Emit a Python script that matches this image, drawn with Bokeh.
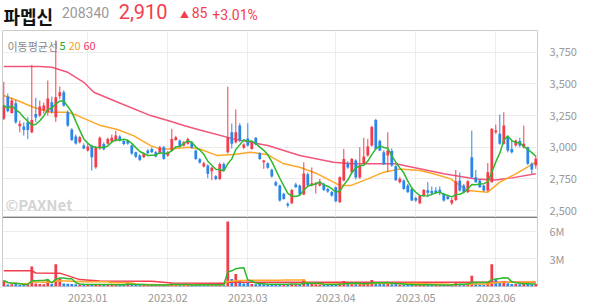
import pandas as pd
from bokeh.plotting import figure
from bokeh.layouts import column
from bokeh.models import Range1d, FixedTicker, NumeralTickFormatter, Label, Span, ColumnDataSource
from bokeh.embed import file_html
from bokeh.resources import INLINE

# ---------------- data ----------------
opens = [3225, 3400, 3270, 3348, 3166, 3163, 3197, 3118, 3262, 3250, 3290, 3276, 3355, 3237, 3403, 3434, 3276, 3140, 3085, 3040,
         3013, 2975, 3013, 2842, 2990, 3025, 3027, 3045, 3050, 3085, 3050, 3050, 3013, 2960, 2935, 2921, 2974, 2987, 2960, 2953,
         3000, 2934, 2974, 3058, 3053, 3013, 3027, 3040, 2974, 2905, 2847, 2855, 2810, 2770, 2750, 2868, 2960, 3118, 3040, 3171,
         2995, 3069, 2987, 3074, 2953, 2882, 2874, 2822, 2724, 2697, 2632, 2553, 2558, 2705, 2697, 2626, 2787, 2697, 2705, 2697,
         2711, 2671, 2647, 2684, 2566, 2737, 2874, 2803, 2895, 2760, 2874, 2934, 3013, 3216, 3050, 2960, 2934, 2970, 2850, 2724,
         2737, 2697, 2671, 2600, 2558, 2618, 2660, 2655, 2658, 2665, 2632, 2611, 2558, 2584, 2737, 2697, 2645, 2921, 2763, 2737,
         2697, 2658, 2724, 3118, 3106, 3027, 3079, 2987, 3013, 3050, 3000, 3000, 2870, 2855]
highs = [3515, 3424, 3390, 3374, 3211, 3197, 3237, 3650, 3390, 3369, 3352, 3527, 3400, 3843, 3480, 3450, 3290, 3150, 3100, 3090,
         3030, 3030, 3020, 3010, 3085, 3040, 3075, 3100, 3130, 3095, 3060, 3060, 3020, 2965, 2945, 2960, 2985, 3000, 2970, 3010,
         3010, 2970, 3145, 3090, 3060, 3050, 3075, 3050, 2980, 2915, 2885, 2865, 2845, 2780, 2880, 2880, 3479, 3187, 3298, 3190,
         3030, 3190, 3045, 3080, 2960, 2900, 2880, 2830, 2735, 2705, 2640, 2565, 2670, 2720, 2705, 2882, 2800, 2840, 2725, 2750,
         2720, 2680, 2655, 2690, 2770, 2987, 2890, 2915, 2905, 3000, 3074, 3066, 3170, 3225, 3060, 2975, 3118, 2990, 2860, 2765,
         2745, 2710, 2680, 2610, 2625, 2670, 2724, 2690, 2685, 2690, 2640, 2620, 2600, 2820, 2800, 2710, 2740, 3132, 2820, 2750,
         2705, 2875, 3150, 3179, 3258, 3276, 3090, 3060, 3060, 3075, 3171, 3005, 2880, 2935]
lows = [3215, 3276, 3264, 3185, 3118, 3092, 3066, 3110, 3200, 3237, 3266, 3250, 3265, 3200, 3380, 3320, 3160, 3050, 3021, 3030,
        2985, 2965, 2816, 2830, 2980, 2975, 3020, 3040, 3045, 3045, 3015, 3020, 2940, 2915, 2890, 2915, 2945, 2955, 2920, 2945,
        2900, 2925, 2965, 3050, 3000, 3005, 3020, 2990, 2900, 2870, 2840, 2755, 2740, 2740, 2740, 2810, 2950, 2990, 3030, 3040,
        2985, 3005, 2980, 3015, 2900, 2829, 2830, 2760, 2690, 2570, 2585, 2525, 2550, 2680, 2620, 2620, 2690, 2690, 2634, 2690,
        2655, 2640, 2610, 2565, 2560, 2730, 2830, 2795, 2745, 2750, 2865, 2925, 3005, 2980, 2970, 2860, 2805, 2845, 2735, 2715,
        2665, 2640, 2575, 2570, 2550, 2610, 2605, 2620, 2630, 2620, 2570, 2585, 2545, 2575, 2650, 2640, 2640, 2755, 2720, 2680,
        2650, 2650, 2720, 3105, 3020, 3020, 2960, 2950, 3005, 3000, 2990, 2860, 2790, 2830]
closes = [3330, 3285, 3369, 3197, 3185, 3137, 3137, 3216, 3234, 3321, 3329, 3385, 3280, 3395, 3434, 3329, 3171, 3058, 3030, 3079,
          2990, 3005, 2921, 3000, 3075, 2985, 3066, 3075, 3092, 3055, 3025, 3030, 2950, 2925, 2900, 2947, 2953, 2960, 2926, 3000,
          2910, 2960, 3066, 3079, 3005, 3040, 3066, 2995, 2908, 2880, 2874, 2790, 2837, 2750, 2868, 2816, 3079, 3027, 3118, 3053,
          3021, 3013, 3040, 3021, 2908, 2895, 2837, 2768, 2697, 2579, 2592, 2540, 2663, 2684, 2626, 2792, 2697, 2716, 2716, 2716,
          2663, 2650, 2618, 2574, 2763, 2908, 2840, 2908, 2760, 2855, 2926, 3005, 3160, 2987, 2975, 2865, 2974, 2855, 2740, 2750,
          2671, 2645, 2579, 2579, 2618, 2663, 2640, 2637, 2640, 2645, 2579, 2592, 2584, 2732, 2658, 2645, 2732, 2763, 2724, 2684,
          2658, 2803, 3145, 3132, 3027, 3171, 2974, 2960, 3053, 3013, 3027, 2869, 2825, 2910]
volumes = [640, 220, 240, 260, 200, 210, 230, 2180, 330, 280, 250, 750, 280, 2430, 860, 330, 300, 280, 240, 220,
           200, 190, 280, 240, 220, 190, 180, 190, 210, 170, 160, 430, 190, 180, 190, 160, 150, 160, 170, 180,
           200, 160, 330, 200, 170, 160, 180, 170, 200, 180, 160, 220, 200, 190, 240, 200, 7070, 820, 1360, 600,
           330, 400, 280, 240, 280, 240, 220, 240, 240, 280, 240, 240, 300, 240, 220, 750, 330, 280, 240, 220,
           200, 180, 190, 240, 350, 600, 280, 330, 280, 300, 330, 330, 700, 400, 280, 280, 500, 240, 280, 200,
           200, 190, 220, 180, 200, 210, 190, 160, 150, 160, 200, 170, 180, 400, 240, 200, 280, 1180, 330, 240,
           200, 400, 2430, 800, 500, 600, 350, 280, 280, 240, 330, 330, 240, 280]
volumes = [v * 1000 for v in volumes]

# moving averages (index, value)
ma20_idx = [0, 3.4, 7.4, 11.7, 16, 18.4, 24.2, 28.4, 32.4, 36.7, 39, 42.4, 46, 49, 53.4, 57.4, 61.7, 66, 70, 74,
            78.4, 82.4, 84, 86.7, 91, 95, 99, 104, 107.4, 111.7, 116, 121, 124, 128, 133]
ma20_val = [3408, 3369, 3316, 3276, 3276, 3250, 3171, 3140, 3092, 3013, 2987, 2987, 3000, 2986, 2934, 2942, 2960, 2940, 2869, 2842,
            2790, 2724, 2697, 2697, 2750, 2803, 2828, 2816, 2790, 2750, 2658, 2645, 2724, 2790, 2882]
ma60_idx = [0, 9, 12, 16, 20, 22.5, 28.5, 36.7, 41, 45, 49, 57.4, 66, 74, 82.4, 87, 98, 110, 118, 123, 127, 133]
ma60_val = [3637, 3637, 3632, 3592, 3513, 3434, 3355, 3250, 3211, 3171, 3136, 3066, 3013, 2934, 2882, 2869, 2869, 2790, 2750, 2742,
            2758, 2790]
vma60_idx = [0, 7, 8, 14, 19, 24, 37, 42, 55, 56, 133]
vma60_val = [1710000, 1710000, 1470000, 1450000, 750000, 600000, 580000, 380000, 360000, 470000, 450000]

month_idx = [21, 41, 61, 83, 103, 123]
month_labels = ["2023.01", "2023.02", "2023.03", "2023.04", "2023.05", "2023.06"]
price_ticks = [2500, 2750, 3000, 3250, 3500, 3750]
vol_ticks = [3000000, 6000000]
vol_tick_labels = ["3M", "6M"]

# ---------------- styling ----------------
RED = "#f23d4c"
BLUE = "#2b86e8"
GREEN = "#2eb82e"
ORANGE = "#ffa828"
PINK = "#f2557a"
GRID = "#ececec"
FONT = "Noto Sans CJK KR"
NUMFONT = "Roboto"

W = 594
FR_L, FR_R = 2, 537
HEAD_H, PRICE_H, VOL_H = 30, 187, 87
X0, X1 = -0.325, 133.425
P_LO, P_HI = 2445, 3922
V_LO, V_HI = 0, 7500000

n = len(closes)
idx = list(range(n))
candle_col = [RED if c >= o else BLUE for o, c in zip(opens, closes)]
vol_col = [RED if (i == 0 and closes[0] >= opens[0]) or (i > 0 and closes[i] >= closes[i - 1]) else BLUE for i in idx]
ma5 = pd.Series(closes).rolling(5, min_periods=1).mean().tolist()
vma5 = pd.Series(volumes).rolling(5, min_periods=1).mean().tolist()
vma20 = pd.Series(volumes).rolling(20, min_periods=1).mean().tolist()


def px_x(px):
    return X0 + (px - FR_L) * (X1 - X0) / (FR_R - FR_L)


def px_py(py):  # page y (within price frame) -> price
    return P_HI - (py - HEAD_H) * (P_HI - P_LO) / PRICE_H


# ---------------- header ----------------
h = figure(width=W, height=HEAD_H, x_range=Range1d(0, W), y_range=Range1d(HEAD_H, 0), title=None,
           output_backend="svg", toolbar_location=None, min_border=0,
           x_axis_location=None, y_axis_location=None)
h.outline_line_color = None
h.xgrid.visible = False
h.ygrid.visible = False
h.background_fill_color = "white"
# (x, top y, text, font, size, style, colour)
header = [
    (1, 2, "파멥신", FONT, "18px", "bold", "#111111"),
    (66, 6, "208340", NUMFONT, "14px", "normal", "#999999"),
    (129, 3, "2,910", NUMFONT, "20px", "normal", RED),
    (197, 7, "▲", FONT, "9px", "normal", RED),
    (210, 6, "85", NUMFONT, "14px", "normal", RED),
    (233, 6, "+3.01%", NUMFONT, "14px", "normal", RED),
]
for hx, hy, txt, fnt, fs, fst, col in header:
    h.add_layout(Label(x=hx, y=hy, text=txt, text_font=fnt, text_font_size=fs, text_font_style=fst,
                       text_color=col, text_baseline="top"))

# ---------------- price panel ----------------
p = figure(width=W, height=PRICE_H, x_range=Range1d(X0, X1), y_range=Range1d(P_LO, P_HI), title=None,
           output_backend="svg", toolbar_location=None, y_axis_location="right",
           min_border_left=FR_L, min_border_right=W - FR_R, min_border_top=0, min_border_bottom=0)
p.outline_line_color = "#cccccc"
p.xaxis.visible = False
p.xgrid.ticker = FixedTicker(ticks=month_idx)
p.ygrid.ticker = FixedTicker(ticks=price_ticks)
p.xgrid.grid_line_color = GRID
p.ygrid.grid_line_color = GRID
p.yaxis.ticker = FixedTicker(ticks=price_ticks)
p.yaxis.formatter = NumeralTickFormatter(format="0,0")
p.yaxis.axis_line_color = None
p.yaxis.major_tick_line_color = None
p.yaxis.minor_tick_line_color = None
p.yaxis.major_label_text_color = "#999999"
p.yaxis.major_label_text_font = FONT
p.yaxis.major_label_text_font_size = "11px"
p.yaxis.major_label_standoff = 6

p.add_layout(Label(x=px_x(5), y=px_py(193), text="©PAXNet", text_font=FONT, text_font_size="15px",
                   text_font_style="bold", text_color="#d4d4d4", text_baseline="top"))

src = ColumnDataSource(dict(x=idx, o=opens, h=highs, l=lows, c=closes, color=candle_col,
                            top=[max(a, b) for a, b in zip(opens, closes)],
                            bottom=[min(a, b) for a, b in zip(opens, closes)]))
p.line(ma60_idx, ma60_val, line_color=PINK, line_width=1.5)
p.line(ma20_idx, ma20_val, line_color=ORANGE, line_width=1.5)
p.segment(x0="x", y0="l", x1="x", y1="h", line_color="color", line_width=1, source=src)
p.vbar(x="x", width=0.7, top="top", bottom="bottom", fill_color="color", line_color=None, source=src)
p.line(idx, ma5, line_color=GREEN, line_width=1.5)

p.add_layout(Label(x=px_x(7), y=px_py(45), text="이동평균선", text_font=FONT, text_font_size="11px",
                   text_color="#888888", text_baseline="alphabetic"))
p.add_layout(Label(x=px_x(59), y=px_py(45), text="5", text_font=FONT, text_font_size="11px",
                   text_color="#22aa22", text_baseline="alphabetic"))
p.add_layout(Label(x=px_x(68), y=px_py(45), text="20", text_font=FONT, text_font_size="11px",
                   text_color="#f5a020", text_baseline="alphabetic"))
p.add_layout(Label(x=px_x(83), y=px_py(45), text="60", text_font=FONT, text_font_size="11px",
                   text_color="#ee3a66", text_baseline="alphabetic"))

# ---------------- volume panel ----------------
v = figure(width=W, height=VOL_H, x_range=p.x_range, y_range=Range1d(V_LO, V_HI), title=None,
           output_backend="svg", toolbar_location=None, y_axis_location="right",
           min_border_left=FR_L, min_border_right=W - FR_R, min_border_top=0, min_border_bottom=16)
v.outline_line_color = "#cccccc"
v.xgrid.ticker = FixedTicker(ticks=month_idx)
v.ygrid.ticker = FixedTicker(ticks=vol_ticks)
v.xgrid.grid_line_color = GRID
v.ygrid.grid_line_color = GRID
v.xaxis.ticker = FixedTicker(ticks=month_idx)
v.xaxis.major_label_overrides = {k: s for k, s in zip(month_idx, month_labels)}
v.yaxis.ticker = FixedTicker(ticks=vol_ticks)
v.yaxis.major_label_overrides = {k: s for k, s in zip(vol_ticks, vol_tick_labels)}
for ax in (v.xaxis[0], v.yaxis[0]):
    ax.axis_line_color = None
    ax.major_tick_line_color = None
    ax.minor_tick_line_color = None
    ax.major_label_text_color = "#999999"
    ax.major_label_text_font = FONT
    ax.major_label_text_font_size = "11px"
v.yaxis.major_label_standoff = 6
v.xaxis.major_label_standoff = 1

v.vbar(x=idx, width=0.7, top=volumes, bottom=0, fill_color=vol_col, line_color=None)
v.line(vma60_idx, vma60_val, line_color=RED, line_width=1.5)
v.line(idx, vma20, line_color=ORANGE, line_width=1.5)
v.line(idx, vma5, line_color=GREEN, line_width=1.5)
v.add_layout(Span(location=V_HI, dimension="width", line_color="#333333", line_width=1))

layout = column(h, p, v, spacing=0)
open("out.html", "w").write(file_html(layout, INLINE))
